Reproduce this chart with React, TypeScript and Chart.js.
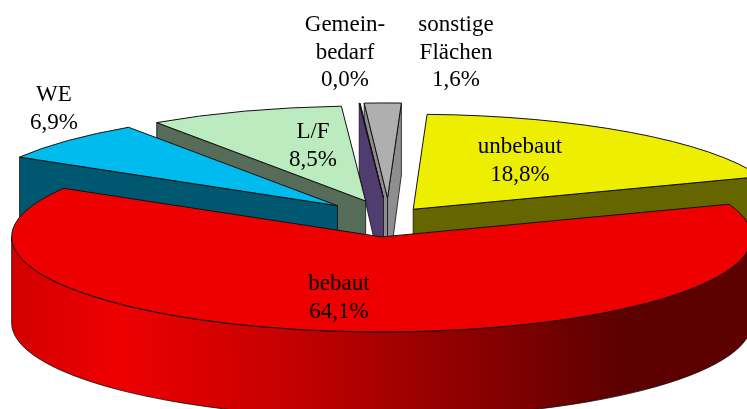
import React, { useEffect, useRef } from "react";
import { Chart, registerables } from "chart.js";

Chart.register(...registerables);

const categories = ["unbebaut", "bebaut", "WE", "L/F", "Gemeinbedarf", "sonstige Flächen"];
const shareValues = [18.8, 64.1, 6.9, 8.5, 0.04, 1.6];
const labelLines = [["unbebaut"], ["bebaut"], ["WE"], ["L/F"], ["Gemein-", "bedarf"], ["sonstige", "Flächen"]];

const faceColors = ["#EEEE00", "#EE0000", "#00BBEE", "#BCEBC0", "#4A4A4A", "#AFAFAF"];
const wallColors = ["#666600", "#660000", "#005870", "#566B58", "#503C6E", "#8E8E8E"];
const explodeBy = [42, 74, 70, 70, 78, 78];
const drawOrder = [5, 4, 3, 2, 0, 1];
const labelCenters = [
  [520, 147],
  [339, 284],
  [54, 95],
  [313, 132],
  [345, 25],
  [456, 25],
];

const TILT = 0.2568;
const RADIUS = 370;
const LINE_HEIGHT = 27.5;

const depthAt = (y: number) => Math.min(86, 86 - (237 - y) * 0.106);

const pie3d = {
  id: "pie3d",
  beforeDatasetDraw(chart: any) {
    const ctx: CanvasRenderingContext2D = chart.ctx;
    const arcs = chart.getDatasetMeta(0).data;
    const stroke = "#101010";
    drawOrder.forEach((i) => {
      const arc = arcs[i];
      const { x, y, startAngle, endAngle, outerRadius } = arc.getProps(
        ["x", "y", "startAngle", "endAngle", "outerRadius"],
        true
      );
      const mid = (startAngle + endAngle) / 2;
      const dx = Math.cos(mid) * explodeBy[i];
      const dy = Math.sin(mid) * explodeBy[i];
      const ax = x + dx;
      const ay = y + dy * TILT;
      const rx = outerRadius;
      const ry = outerRadius * TILT;

      const radialWall = (angle: number) => {
        const ox = ax + Math.cos(angle) * rx;
        const oy = ay + Math.sin(angle) * ry;
        ctx.beginPath();
        ctx.moveTo(ax, ay);
        ctx.lineTo(ox, oy);
        ctx.lineTo(ox, oy + depthAt(oy));
        ctx.lineTo(ax, ay + depthAt(ay));
        ctx.closePath();
        ctx.fillStyle = wallColors[i];
        ctx.fill();
        ctx.strokeStyle = stroke;
        ctx.lineWidth = 0.8;
        ctx.stroke();
      };
      if (Math.cos(startAngle) < 0) radialWall(startAngle);
      if (Math.cos(endAngle) > 0) radialWall(endAngle);

      if (endAngle - startAngle > Math.PI) {
        const d = depthAt(ay);
        const g = ctx.createLinearGradient(12, 0, 747, 0);
        g.addColorStop(0, "#D20000");
        g.addColorStop(0.14, "#EE0000");
        g.addColorStop(0.38, "#C40000");
        g.addColorStop(0.83, "#5C0000");
        g.addColorStop(1, "#5C0000");
        ctx.beginPath();
        ctx.ellipse(ax, ay, rx, ry, 0, 0, Math.PI);
        ctx.ellipse(ax, ay + d, rx, ry, 0, Math.PI, 0, true);
        ctx.closePath();
        ctx.fillStyle = g;
        ctx.fill();
        ctx.strokeStyle = stroke;
        ctx.lineWidth = 0.8;
        ctx.stroke();
      }

      ctx.save();
      ctx.translate(ax, ay);
      ctx.scale(1, TILT);
      ctx.translate(-x, -y);
      arc.draw(ctx);
      ctx.restore();

      ctx.save();
      ctx.translate(ax, ay);
      ctx.scale(1, TILT);
      ctx.beginPath();
      ctx.moveTo(0, 0);
      ctx.arc(0, 0, rx, startAngle, endAngle);
      ctx.closePath();
      ctx.restore();
      ctx.strokeStyle = stroke;
      ctx.lineWidth = 1;
      ctx.stroke();
    });

    ctx.save();
    ctx.fillStyle = "#000000";
    ctx.font = '23px "Liberation Serif"';
    ctx.textAlign = "center";
    ctx.textBaseline = "middle";
    labelLines.forEach((lines, i) => {
      const pct = shareValues[i].toFixed(1).replace(".", ",") + "%";
      [...lines, pct].forEach((text, n) => {
        ctx.fillText(text, labelCenters[i][0], labelCenters[i][1] + n * LINE_HEIGHT);
      });
    });
    ctx.restore();
    return false;
  },
};

export default function App() {
  const ref = useRef<HTMLCanvasElement>(null);
  useEffect(() => {
    const chart = new Chart(ref.current as HTMLCanvasElement, {
      type: "pie",
      data: {
        labels: categories,
        datasets: [
          {
            data: shareValues,
            backgroundColor: faceColors,
            borderWidth: 0,
            radius: RADIUS,
            clip: false,
          } as any,
        ],
      },
      options: {
        animation: false,
        responsive: false,
        devicePixelRatio: 1,
        rotation: 2.15,
        events: [],
        layout: { padding: { left: 30, top: 27 } },
        plugins: { legend: { display: false }, tooltip: { enabled: false } },
      },
      plugins: [pie3d],
    });
    return () => chart.destroy();
  }, []);
  return (
    <canvas
      ref={ref}
      width={747}
      height={409}
      style={{ position: "absolute", left: 0, top: 0, display: "block" }}
    />
  );
}
